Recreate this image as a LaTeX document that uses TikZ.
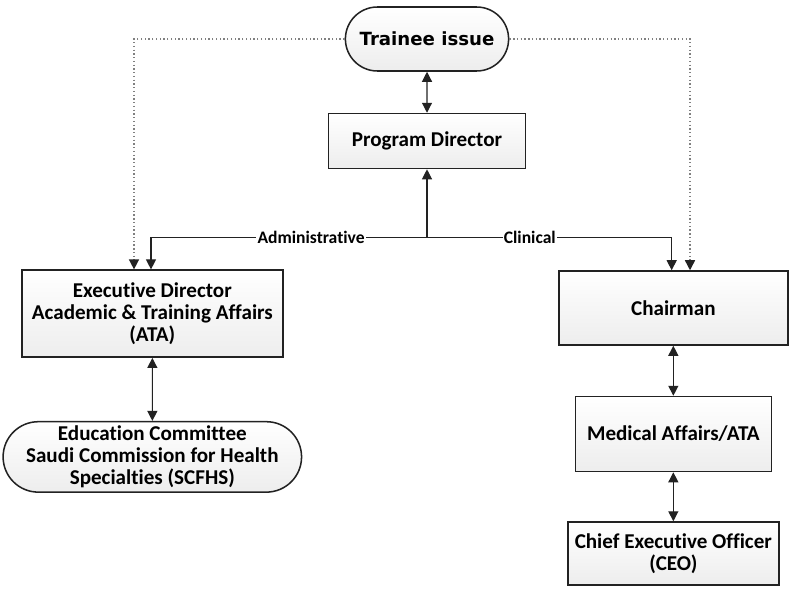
\documentclass[tikz,border=0pt]{standalone}
\usepackage{fontspec}
\setmainfont{Carlito}[RawFeature=-liga]
\newfontfamily\headfont{DejaVu Sans}
\usetikzlibrary{arrows.meta,calc,positioning,shapes.misc}
\definecolor{Ink}{HTML}{222222}
\definecolor{Shade}{HTML}{EDEDED}
\tikzset{box/.style={draw=Ink,line width=1.3pt,top color=white,bottom color=Shade,align=center,font=\bfseries\fontsize{18}{19}\selectfont},pill/.style={box,rounded rectangle},link/.style={{Triangle[length=3mm,width=3mm]}-{Triangle[length=3mm,width=3mm]},line width=1pt,draw=Ink},flow/.style={-{Triangle[length=3mm,width=3mm]},line width=1pt,draw=Ink},hint/.style={-{Triangle[length=3mm,width=3mm,color=Ink]},dotted,line width=1.2pt,draw=gray},tag/.style={fill=white,inner sep=1pt,font=\bfseries\fontsize{15}{17}\selectfont}}
\begin{document}
\begin{tikzpicture}[node distance=1.2cm]
      \useasboundingbox (0,0) rectangle (23.82,-17.73);
      \node[pill,minimum width=5.13cm,minimum height=1.92cm,font=\headfont\bfseries\fontsize{15.5}{18}\selectfont](issue) at (12.81,-1.17){Trainee issue};
      \node[box,below=1.23cm of issue,minimum width=5.91cm,minimum height=1.65cm](pd){Program Director};
      \node[box,minimum width=7.83cm,minimum height=2.61cm](exec) at (4.57,-9.41){Executive Director\\Academic \& Training Affairs\\(ATA)};
      \node[pill,below=1.89cm of exec,minimum width=8.85cm,minimum height=2.1cm](scfhs){Education Committee\\Saudi Commission for Health\\Specialties (SCFHS)};
      \node[box,minimum width=6.87cm,minimum height=2.22cm](chair) at (20.2,-9.24){Chairman};
      \node[box,below=1.5cm of chair,minimum width=5.88cm,minimum height=2.25cm](med){Medical Affairs/ATA};
      \node[box,below=1.47cm of med,minimum width=6.33cm,minimum height=1.89cm](ceo){Chief Executive Officer\\(CEO)};
      \coordinate (bus) at ($(pd.south)+(0,-2.05)$);
      \draw[link](issue)--(pd);
      \draw[flow](bus)--(pd);
      \draw[flow](bus)-|node[tag,pos=.21]{Administrative}([xshift=-.04cm]exec.north);
      \draw[flow](bus)-|node[tag,pos=.21]{Clinical}([xshift=-.05cm]chair.north);
      \draw[hint](issue.west)-|([xshift=-.55cm]exec.north);
      \draw[hint](issue.east)-|([xshift=.5cm]chair.north);
      \draw[link](exec)--(scfhs);
      \draw[link](chair)--(med);
      \draw[link](med)--(ceo);
    \end{tikzpicture}
\end{document}
